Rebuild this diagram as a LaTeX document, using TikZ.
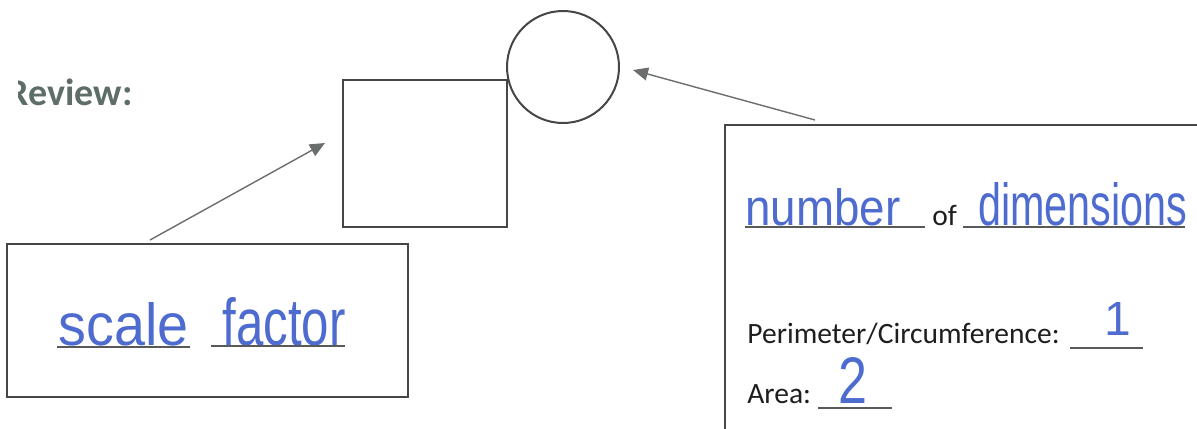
\documentclass[tikz,border=0pt]{standalone}
\usepackage{fontspec}
\usepackage{graphicx}
\setmainfont{Carlito}
\newfontfamily\handfont{Liberation Sans}
\usetikzlibrary{arrows.meta}

\definecolor{ink}{HTML}{4E6CCF}
\definecolor{frame}{HTML}{464646}
\definecolor{pointer}{HTML}{6A6E6D}
\definecolor{heading}{HTML}{5E6D68}
\definecolor{printed}{HTML}{1E1E1E}

\begin{document}
\begin{tikzpicture}[x=0.5pt,y=-0.5pt,
  outline/.style={draw=frame, line width=1pt, inner sep=0pt},
  pointerline/.style={draw=pointer, line width=0.7pt,
    -{Triangle[length=7.5pt,width=6.5pt]}},
  blank/.style={draw=frame!90, line width=0.8pt},
  hand/.style={inner sep=0pt, anchor=base west, text=ink, font=\handfont},
  label/.style={inner sep=0pt, anchor=base west, text=printed,
    font=\fontsize{14.75pt}{17pt}\selectfont}]

\useasboundingbox (0,0) rectangle (1197,428);

% heading, cut at the page edge
\begin{scope}
  \clip (18,0) rectangle (300,200);
  \node[inner sep=0pt, anchor=base east, text=heading,
        font=\fontsize{19pt}{22pt}\selectfont\bfseries] (review) at (133,105) {Review:};
\end{scope}

% square and circle
\node[outline, minimum width=82pt, minimum height=73.5pt] (sq) at (425,153.5) {};
\node[outline, circle, minimum size=56pt] (circ) at (563,67) {};

% left answer box
\node[outline, minimum width=200.5pt, minimum height=76.5pt] (lbox) at (207.5,320.5) {};
\coordinate (ltail) at (150,240);
\coordinate (ltip) at (325,143);
\draw[pointerline] (ltail) -- (ltip);

\node[hand] (scale) at (58,345) {\resizebox{65pt}{21.5pt}{scale}};
\node[hand] (factor) at (222,345) {\resizebox{61.5pt}{24pt}{factor}};
\draw[blank] (57,347) -- (190,347);
\draw[blank] (211,346) -- (345,346);

% right answer box, running past the page edge
\begin{scope}
  \clip (0,0) rectangle (1197,428);
  \node[outline, minimum width=247.5pt, minimum height=162.5pt] (rbox) at (972.5,287.5) {};
\end{scope}
\coordinate (rtail) at (815,120);
\coordinate (rtip) at (633,70);
\draw[pointerline] (rtail) -- (rtip);

\node[hand] (number) at (745,225) {\resizebox{77.5pt}{18.5pt}{number}};
\draw[blank] (745,227) -- (925,227);
\node[label] (of) at (932,225) {of};
\node[hand] (dims) at (978,225) {\resizebox{104.5pt}{21.5pt}{dimensions}};
\draw[blank] (963,227) -- (1185,227);

\node[label] (perim) at (747,343) {Perimeter/Circumference:};
\draw[blank] (1070,348) -- (1143,348);
\node[hand] (one) at (1104,335) {\resizebox{!}{16.5pt}{1}};

\node[label] (area) at (747,403) {Area:};
\draw[blank] (818,408) -- (892,408);
\node[hand] (two) at (838,403) {\resizebox{14.5pt}{23pt}{2}};

\end{tikzpicture}
\end{document}
